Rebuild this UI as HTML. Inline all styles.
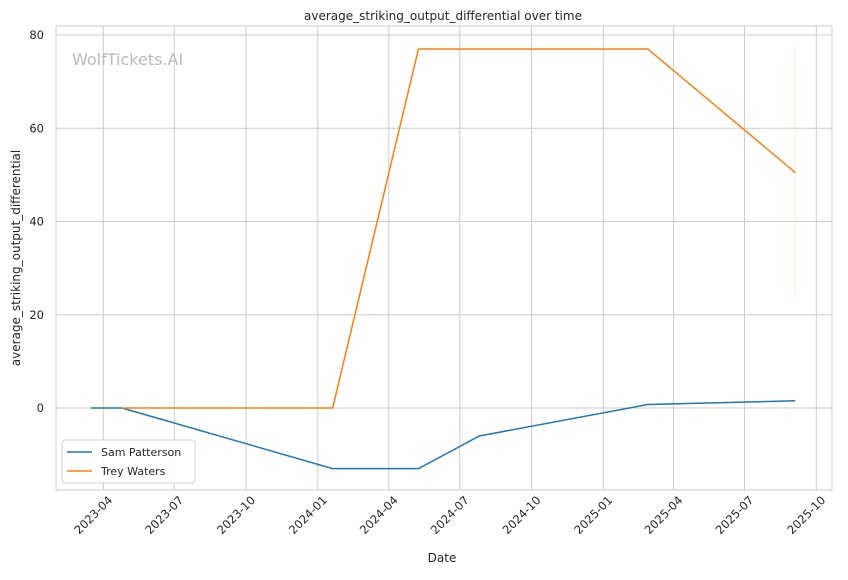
<!DOCTYPE html>
<html><head><meta charset="utf-8"><style>
body{margin:0;background:#fff;font-family:"Liberation Sans","DejaVu Sans",sans-serif;}
svg text{font-family:"DejaVu Sans","Liberation Sans",sans-serif;fill:#262626;}
</style></head><body>
<svg id="chart" width="848" height="575" xmlns="http://www.w3.org/2000/svg">
<rect x="56" y="26" width="776" height="464" fill="#fff" stroke="#ccc" stroke-width="1"/>
<g id="grid"></g>
<g id="series"></g>
<text x="72" y="65" font-size="16" style="fill:#bbb">WolfTickets.AI</text>
<text x="443" y="20" font-size="12" text-anchor="middle">average_striking_output_differential over time</text>
<text x="442" y="562" font-size="12" text-anchor="middle">Date</text>
<text transform="translate(20,258) rotate(-90)" font-size="12" text-anchor="middle">average_striking_output_differential</text>
<g>
<rect x="62" y="440" width="133" height="43" rx="3" fill="#fff" stroke="#ccc" opacity="0.9"/>
<g><line x1="67" y1="452" x2="92" y2="452" stroke="#1f77b4" stroke-width="1.5"/><text x="101" y="456" font-size="11">Sam Patterson</text></g>
<g><line x1="67" y1="471" x2="92" y2="471" stroke="#ff7f0e" stroke-width="1.5"/><text x="101" y="475" font-size="11">Trey Waters</text></g>
</g>
</svg>
<script>
const samDates=["2023-03-16","2023-04-25","2024-01-20","2024-05-09","2024-07-26","2025-02-27","2025-09-04"];
const samValues=[0,0,-13,-13,-6,0.75,1.55];
const treyDates=["2023-04-25","2024-01-20","2024-05-09","2025-02-27","2025-09-04"];
const treyValues=[0,0,77,77,50.5];
const treyBand=[24,77];
const xTicks=["2023-04","2023-07","2023-10","2024-01","2024-04","2024-07","2024-10","2025-01","2025-04","2025-07","2025-10"];
const yTicks=[0,20,40,60,80];

const NS="http://www.w3.org/2000/svg";
const t0=Date.parse("2023-04-01"),t1=Date.parse("2025-10-01");
function x(d){return 103.3+(Date.parse(d)-t0)/(t1-t0)*(816.3-103.3);}
function y(v){return 408-v*4.6625;}
function mk(tag,attrs,parent){const e=document.createElementNS(NS,tag);for(const k in attrs)e.setAttribute(k,attrs[k]);parent.appendChild(e);return e;}
const grid=document.getElementById('grid'),ser=document.getElementById('series');
xTicks.forEach(t=>{const px=x(t+"-01");
const l=mk('line',{x1:px,x2:px,y1:26,y2:490,stroke:'#ccc','stroke-width':1},grid);


const tx=mk('text',{x:px+7,y:502,'font-size':11.5,'text-anchor':'end',transform:`rotate(-45 ${px+7} 498)`},grid);
tx.textContent=t;


});
yTicks.forEach(v=>{const py=y(v);
const l=mk('line',{x1:56,x2:832,y1:py,y2:py,stroke:'#ccc','stroke-width':1},grid);


const tx=mk('text',{x:44,y:py+4,'font-size':11.5,'text-anchor':'end'},grid);
tx.textContent=v;


});
const band=mk('line',{x1:x(treyDates[treyDates.length-1]),x2:x(treyDates[treyDates.length-1]),y1:y(treyBand[0]),y2:y(treyBand[1]),stroke:'#ff7f0e','stroke-opacity':0.2,'stroke-width':1},ser);


const p1=mk('polyline',{points:samDates.map((d,i)=>x(d)+','+y(samValues[i])).join(' '),fill:'none',stroke:'#1f77b4','stroke-width':1.5},ser);


const p2=mk('polyline',{points:treyDates.map((d,i)=>x(d)+','+y(treyValues[i])).join(' '),fill:'none',stroke:'#ff7f0e','stroke-width':1.5},ser);


</script>
</body></html>
